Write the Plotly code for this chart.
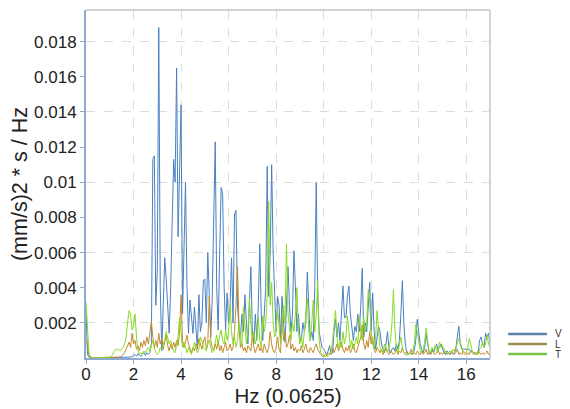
import numpy as np
import plotly.graph_objects as go

# frequency resolution 0.0625 Hz, values in 1e-3 (mm/s)^2 * s / Hz
df = 0.0625
V_rows = [
    [2.7, 0.2, 0.05, 0.03, 0.02, 0.02, 0.02, 0.01, 0.01, 0.01, 0.01, 0.01, 0.01, 0.01, 0.01, 0.01],
    [0.02, 0.02, 0.03, 0.02, 0.02, 0.03, 0.03, 0.02, 0.03, 0.04, 0.03, 0.03, 0.04, 0.05, 0.06, 0.08],
    [0.15, 0.2, 0.1, 0.25, 0.15, 0.1, 0.2, 0.3, 0.15, 0.3, 0.2, 0.3, 0.8, 11.3, 11.5, 3.0],
    [5.0, 18.8, 4.0, 0.4, 3.0, 5.7, 4.5, 2.5, 1.4, 4.0, 8.0, 11.3, 10.0, 16.5, 6.9, 10.0],
    [14.4, 2.5, 6.0, 10.0, 4.0, 1.4, 3.3, 2.5, 1.4, 2.9, 1.5, 0.5, 3.6, 1.5, 2.0, 4.4],
    [4.5, 2.0, 6.0, 3.0, 1.2, 3.5, 8.0, 12.3, 4.0, 1.6, 6.0, 9.7, 9.3, 4.0, 1.6, 3.7],
    [2.0, 3.0, 5.7, 2.0, 8.2, 8.4, 3.0, 1.7, 1.2, 2.5, 1.5, 3.6, 2.0, 0.8, 3.0, 5.2],
    [1.5, 0.8, 2.5, 1.0, 3.0, 6.5, 2.5, 1.0, 2.5, 4.0, 10.9, 3.5, 6.0, 11.0, 6.0, 3.5],
    [1.5, 3.5, 3.0, 1.0, 3.5, 2.0, 0.9, 3.0, 5.2, 3.0, 1.5, 2.5, 6.1, 4.0, 1.5, 2.5],
    [1.2, 1.0, 2.0, 1.5, 2.0, 4.9, 2.5, 1.0, 1.5, 1.0, 4.0, 10.0, 3.5, 1.5, 1.0, 0.6],
    [0.5, 0.3, 0.2, 0.4, 0.7, 0.2, 0.3, 1.5, 2.2, 1.2, 2.0, 1.0, 2.5, 4.1, 2.3, 2.3],
    [3.5, 4.1, 2.5, 1.5, 1.0, 1.8, 1.5, 2.5, 1.5, 3.0, 5.1, 1.2, 2.0, 1.5, 3.0, 4.3],
    [1.5, 3.7, 1.5, 0.5, 1.2, 1.8, 1.5, 0.8, 0.5, 0.3, 0.8, 1.5, 0.5, 0.3, 0.5, 0.6],
    [0.4, 0.8, 0.5, 1.0, 2.5, 4.4, 2.0, 0.8, 0.3, 0.2, 0.3, 0.2, 0.3, 0.4, 1.0, 2.2],
    [1.5, 0.8, 0.5, 0.3, 0.6, 1.4, 0.8, 0.3, 0.2, 0.5, 0.3, 0.5, 0.8, 0.5, 0.6, 0.8],
    [0.5, 0.3, 0.2, 0.4, 0.3, 0.2, 0.3, 0.2, 0.3, 0.5, 1.2, 1.8, 0.8, 0.5, 0.5, 0.5],
    [0.5, 0.5, 0.5, 0.4, 0.4, 0.3, 0.3, 0.2, 0.3, 1.0, 1.2, 0.8, 0.6, 1.4, 1.2, 1.4],
    [0.8],
]
L_rows = [
    [1.0, 0.8, 0.1, 0.02, 0.01, 0.01, 0.01, 0.01, 0.01, 0.01, 0.01, 0.01, 0.01, 0.01, 0.01, 0.01],
    [0.01, 0.01, 0.02, 0.02, 0.03, 0.02, 0.03, 0.05, 0.1, 0.2, 0.3, 0.5, 0.7, 0.9, 0.6, 1.4],
    [0.8, 1.0, 0.5, 0.7, 0.4, 0.9, 0.6, 1.0, 0.7, 1.2, 0.8, 1.4, 2.1, 1.2, 0.6, 1.0],
    [0.6, 1.4, 0.8, 1.1, 0.5, 0.9, 1.3, 0.7, 0.4, 0.8, 0.5, 0.9, 0.6, 1.0, 0.7, 1.5],
    [3.6, 1.0, 0.6, 0.9, 1.3, 0.8, 0.5, 0.3, 0.6, 0.4, 0.8, 0.6, 1.1, 0.7, 0.5, 0.9],
    [1.2, 0.5, 0.8, 3.5, 1.0, 0.6, 0.4, 0.8, 0.5, 1.0, 0.4, 0.7, 0.3, 0.6, 0.9, 0.4],
    [0.5, 0.8, 0.4, 0.6, 1.5, 3.0, 5.2, 1.8, 0.6, 0.8, 0.4, 0.6, 0.3, 0.7, 0.5, 0.4],
    [1.3, 0.6, 0.3, 0.5, 0.8, 0.4, 0.6, 0.3, 0.8, 0.5, 0.3, 0.6, 1.5, 0.8, 0.4, 0.3],
    [0.6, 1.2, 0.5, 0.3, 2.4, 1.0, 1.5, 0.6, 0.8, 1.3, 0.5, 0.8, 0.4, 0.6, 0.3, 0.5],
    [0.4, 0.7, 0.3, 0.5, 0.8, 0.4, 0.3, 0.6, 0.4, 0.3, 0.6, 0.8, 0.5, 0.3, 0.2, 0.1],
    [0.1, 0.2, 0.1, 0.3, 0.2, 0.4, 0.6, 0.3, 0.5, 0.8, 0.4, 0.6, 0.9, 0.5, 0.3, 0.6],
    [0.4, 0.7, 0.3, 0.5, 0.8, 0.4, 0.3, 0.6, 0.9, 1.2, 1.9, 0.8, 0.5, 1.0, 0.6, 1.5],
    [0.8, 1.2, 0.5, 0.3, 0.6, 0.4, 0.3, 0.5, 0.2, 0.4, 0.6, 0.3, 0.2, 0.4, 0.3, 0.2],
    [0.3, 0.5, 0.2, 0.4, 0.3, 0.6, 0.3, 0.2, 0.4, 0.2, 0.3, 0.5, 0.2, 0.3, 0.2, 0.4],
    [0.3, 0.2, 0.4, 0.2, 0.3, 0.5, 0.2, 0.3, 0.2, 0.4, 0.3, 0.2, 0.3, 0.5, 0.2, 0.3],
    [0.2, 0.3, 0.4, 0.2, 0.3, 0.2, 0.4, 0.3, 0.2, 0.3, 0.5, 0.2, 0.3, 0.2, 0.4, 0.3],
    [0.2, 0.3, 0.2, 0.4, 0.3, 0.2, 0.3, 0.2, 0.4, 0.3, 0.2, 0.3, 0.2, 0.3, 0.4, 0.2],
    [0.3],
]
T_rows = [
    [3.2, 2.0, 0.3, 0.05, 0.02, 0.02, 0.02, 0.02, 0.02, 0.02, 0.02, 0.02, 0.02, 0.03, 0.03, 0.05],
    [0.05, 0.1, 0.2, 0.4, 0.5, 0.45, 0.5, 0.4, 0.5, 0.6, 0.8, 1.2, 2.0, 2.7, 2.5, 1.6],
    [1.8, 2.5, 1.2, 0.4, 0.2, 0.3, 0.2, 0.4, 0.3, 0.5, 0.6, 0.4, 0.8, 1.0, 0.6, 0.3],
    [0.2, 0.3, 0.6, 0.5, 0.8, 1.0, 1.5, 1.2, 0.8, 1.0, 0.6, 0.4, 0.3, 0.8, 1.2, 2.3],
    [1.5, 0.6, 0.9, 0.5, 0.3, 0.6, 0.4, 0.2, 0.5, 0.9, 0.6, 0.3, 0.5, 1.2, 1.0, 0.6],
    [0.5, 0.4, 0.8, 1.0, 0.6, 0.3, 0.5, 1.0, 1.3, 0.8, 1.2, 1.6, 1.0, 0.8, 1.6, 1.0],
    [1.5, 3.0, 1.5, 0.8, 1.2, 0.6, 1.0, 2.0, 1.2, 0.7, 2.9, 1.5, 0.8, 1.5, 3.4, 2.0],
    [1.0, 1.5, 0.8, 1.2, 2.3, 1.0, 0.6, 2.4, 1.5, 2.0, 3.5, 8.9, 3.0, 4.3, 2.0, 1.2],
    [1.5, 2.8, 1.5, 0.8, 1.5, 3.0, 2.0, 6.5, 2.5, 1.5, 1.0, 2.0, 1.5, 2.5, 4.0, 1.5],
    [0.8, 1.2, 0.6, 1.5, 2.5, 3.4, 1.5, 1.0, 2.0, 3.3, 1.5, 2.5, 4.4, 1.0, 0.3, 0.2],
    [0.1, 0.1, 0.15, 0.1, 0.2, 0.3, 1.0, 1.8, 2.7, 1.2, 0.5, 1.0, 0.6, 1.5, 0.8, 1.2],
    [2.4, 1.5, 0.6, 1.0, 0.5, 0.8, 1.2, 0.8, 2.4, 1.5, 1.0, 2.3, 1.5, 2.0, 3.9, 3.3],
    [1.5, 0.8, 0.5, 1.2, 2.7, 1.5, 0.6, 0.4, 0.3, 0.8, 0.5, 0.3, 0.6, 1.0, 2.0, 3.9],
    [1.5, 0.6, 0.3, 0.8, 1.2, 0.6, 0.3, 0.2, 0.15, 0.2, 0.3, 0.2, 0.4, 0.8, 1.9, 1.5],
    [0.8, 0.4, 0.3, 0.5, 0.9, 1.7, 1.0, 0.4, 0.3, 0.6, 0.4, 0.7, 0.5, 0.3, 0.9, 0.6],
    [0.7, 0.5, 0.3, 0.2, 0.3, 0.4, 0.3, 0.5, 0.4, 0.6, 0.8, 1.1, 0.9, 0.5, 0.3, 0.2],
    [0.3, 0.6, 1.1, 0.8, 0.4, 0.3, 0.2, 0.3, 0.2, 0.5, 0.6, 0.9, 0.6, 0.8, 1.3, 0.8],
    [0.6],
]
series_names = ["V", "L", "T"]
line_colors = ["#4a80bf", "#c48a2c", "#86dc22"]
legend_colors = ["#5f80a8", "#9c8a4c", "#78c24a"]
y_tick_vals = [0.002, 0.004, 0.006, 0.008, 0.010, 0.012, 0.014, 0.016, 0.018]
y_tick_text = ["0.002", "0.004", "0.006", "0.008", "0.01", "0.012", "0.014", "0.016", "0.018"]
y_grid_vals = [0.002, 0.006, 0.010, 0.014, 0.018]
x_tick_vals = [0, 2, 4, 6, 8, 10, 12, 14, 16]

def flat(rows):
    return np.array([v for r in rows for v in r]) * 1e-3

data = [flat(V_rows), flat(L_rows), flat(T_rows)]
freq = np.arange(len(data[0])) * df

fig = go.Figure()
for name, vals, col in zip(series_names, data, line_colors):
    fig.add_trace(go.Scatter(x=freq, y=vals, mode="lines", name=name,
                             line=dict(color=col, width=1), showlegend=False))
# invisible trace on grid axis
fig.add_trace(go.Scatter(x=[0], y=[0], yaxis="y2", mode="markers",
                         marker=dict(opacity=0), showlegend=False, hoverinfo="skip"))

font = "Liberation Sans, Arial, sans-serif"
axis_col = "#8eaad0"
fig.update_layout(
    width=570, height=409,
    margin=dict(l=78, r=88, t=2, b=59),
    paper_bgcolor="white", plot_bgcolor="white",
    font=dict(family=font, color="#222222"),
    xaxis=dict(range=[0, 17.0], tickvals=x_tick_vals, showgrid=True, automargin=False,
               gridcolor="#dcdcdc", griddash="dash", gridwidth=1,
               zeroline=False, showline=True, linecolor=axis_col, linewidth=2,
               ticks="outside", ticklen=4, tickcolor=axis_col, ticklabelstandoff=-4,
               tickfont=dict(size=17, color="#222222"),
               title=dict(text="Hz (0.0625)", font=dict(size=20.5), standoff=0)),
    yaxis=dict(range=[0, 0.0198], tickvals=y_tick_vals, ticktext=y_tick_text,
               automargin=False,
               showgrid=False, zeroline=False, showline=True, linecolor=axis_col,
               linewidth=2, ticks="outside", ticklen=4, tickcolor=axis_col,
               tickfont=dict(size=17, color="#222222"),
               title=dict(text="(mm/s)2 * s / Hz", font=dict(size=21.5), standoff=4)),
    yaxis2=dict(range=[0, 0.0198], overlaying="y", tickvals=y_grid_vals,
                automargin=False,
                showticklabels=False, showgrid=True, gridcolor="#dcdcdc",
                griddash="dash", zeroline=False, showline=False, ticks=""),
    showlegend=False,
)
# top and right frame
fig.add_shape(type="line", xref="paper", yref="paper", x0=0, x1=1, y0=1, y1=1,
              line=dict(color="#c4c4c4", width=1.5))
fig.add_shape(type="line", xref="paper", yref="paper", x0=1, x1=1, y0=0, y1=1,
              line=dict(color="#c4c4c4", width=1.5))
# custom compact legend
legend_y = [0.069, 0.040, 0.0113]
for name, col, yp in zip(series_names, legend_colors, legend_y):
    fig.add_shape(type="line", xref="paper", yref="paper", x0=1.045, x1=1.141,
                  y0=yp, y1=yp, line=dict(color=col, width=2.5))
    fig.add_annotation(xref="paper", yref="paper", x=1.155, y=yp, text=name,
                       showarrow=False, xanchor="left", yanchor="middle",
                       font=dict(size=10, color="#333333"))

fig.write_html("out.html")
